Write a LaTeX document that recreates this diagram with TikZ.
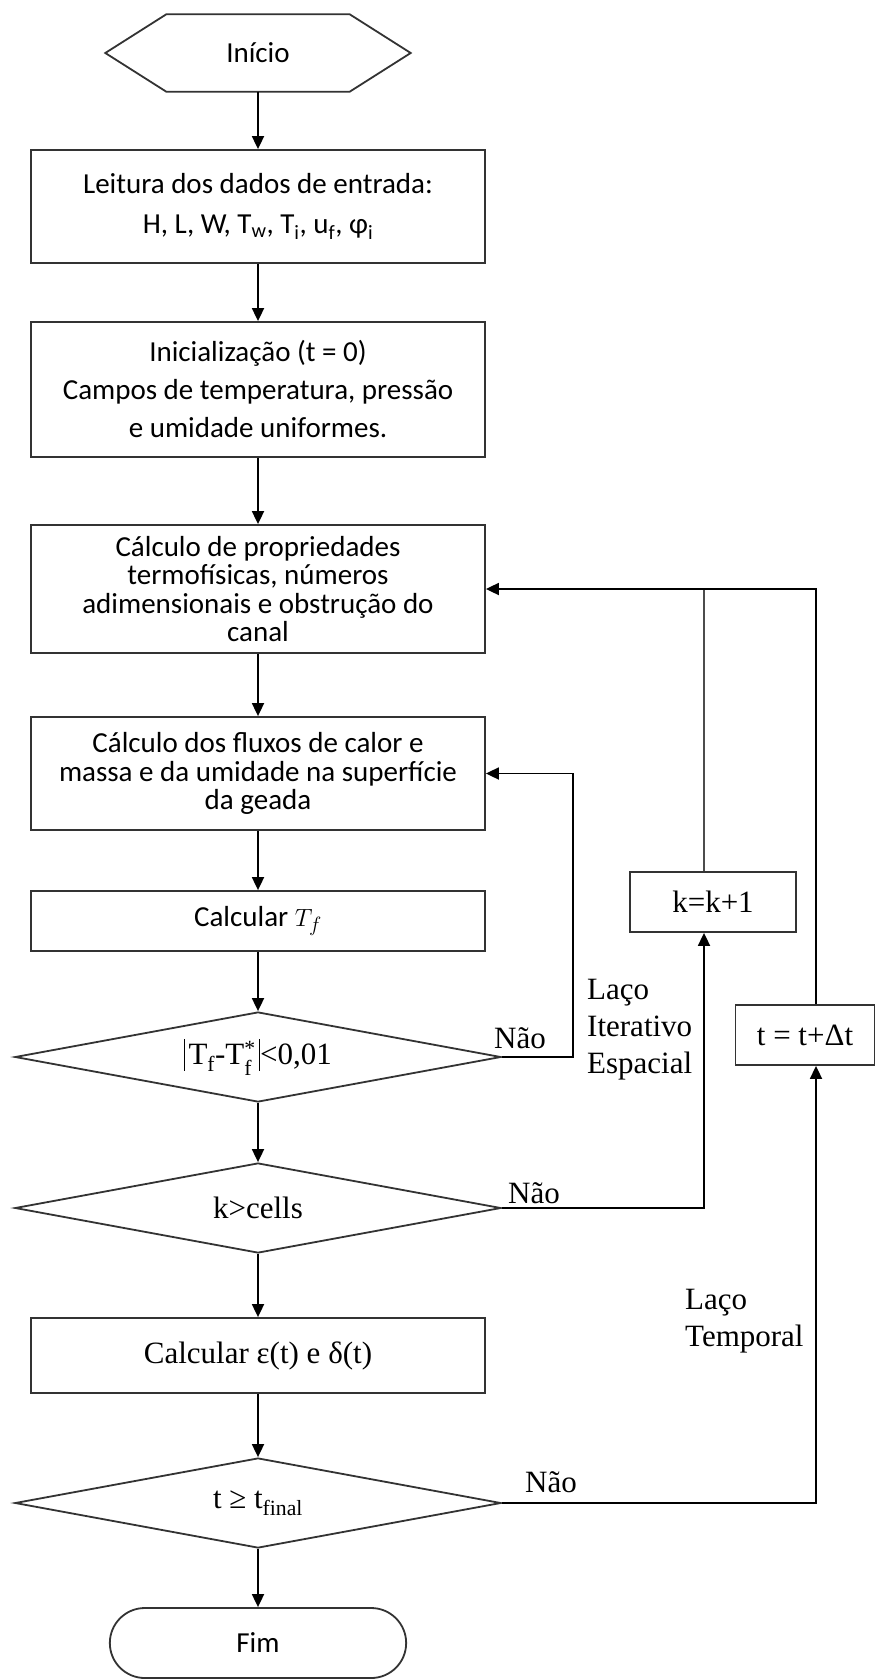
\documentclass[tikz,border=0pt]{standalone}
\usepackage{amsmath}
\usepackage{fontspec}
\setmainfont{Liberation Serif}
\newfontfamily\carlito{Carlito}
\usetikzlibrary{arrows.meta,shapes.geometric,shapes.misc}
\newcommand{\absbar}{\rule[-6pt]{1.4pt}{32pt}}

\begin{document}
\begin{tikzpicture}[
    x=1pt, y=-1pt,
    box/.style={draw=black!80, line width=1.8pt, minimum width=454pt, inner sep=0pt, align=center,
      font=\carlito\fontsize{29}{28.5}\selectfont},
    cond/.style={diamond, aspect=5.4, draw=black!80, line width=1.8pt, minimum width=486pt, minimum height=90pt,
      inner sep=0pt, font=\fontsize{31}{37}\selectfont},
    smallbox/.style={draw=black!80, line width=1.8pt, minimum height=60pt, inner sep=0pt,
      font=\fontsize{31}{37}\selectfont},
    lbl/.style={inner sep=0pt, align=left, font=\fontsize{31}{37}\selectfont},
    arr/.style={-{Triangle[length=13pt,width=12pt]}, line width=1.8pt},
    back/.style={line width=1.6pt, black!70},
  ]
    \useasboundingbox (0,0) rectangle (876,1680);

    % Start
    \node[minimum width=305pt, minimum height=77pt, inner sep=0pt,
      font=\carlito\fontsize{29}{35}\selectfont] (inicio) at (258,53) {Início};
    \draw[draw=black!80, line width=1.8pt] (inicio.west) -- ([xshift=61pt]inicio.north west)
      -- ([xshift=-61pt]inicio.north east) -- (inicio.east)
      -- ([xshift=-61pt]inicio.south east) -- ([xshift=61pt]inicio.south west) -- cycle;

    % Main column
    \node[box, minimum height=113pt, font=\carlito\fontsize{29}{40}\selectfont] (leitura) at (258,206.5)
      {Leitura dos dados de entrada:\\H, L, W, T\textsubscript{w}, T\textsubscript{i}, u\textsubscript{f}, φ\textsubscript{i}};
    \node[box, minimum height=135pt, font=\carlito\fontsize{29}{38}\selectfont] (inicial) at (258,389.5)
      {Inicialização (t = 0)\\Campos de temperatura, pressão\\e umidade uniformes.};
    \node[box, minimum height=128pt] (props) at (258,589)
      {Cálculo de propriedades\\termofísicas, números\\adimensionais e obstrução do\\canal};
    \node[box, minimum height=113pt] (fluxos) at (258,773.5)
      {Cálculo dos fluxos de calor e\\massa e da umidade na superfície\\da geada};
    \node[box, minimum height=60pt] (calctf) at (258,921) {Calcular $T_f$};
    \node[cond] (dtf) at (258,1057)
      {\absbar\hspace{3pt}T\textsubscript{f}-T$^{\text{*}}_{\text{f}}$\hspace{3pt}\absbar<0,01};
    \node[cond] (dcells) at (258,1208) {k>cells};
    \node[box, minimum height=75pt, font=\fontsize{31}{37}\selectfont] (calceps) at (258,1355.5)
      {Calcular ε(t) e δ(t)};
    \node[cond] (dfinal) at (258,1503) {t ≥ t\textsubscript{final}};
    \node[rounded rectangle, draw=black!80, line width=1.8pt, minimum width=303pt, minimum height=70pt,
      font=\carlito\fontsize{29}{35}\selectfont] (fim) at (258,1643) {Fim};

    % Counters
    \node[smallbox, minimum width=166pt] (kbox) at (713,902) {k=k+1};
    \node[smallbox, minimum width=139pt] (tbox) at (805,1035) {t = t+Δt};
    \coordinate (kcol) at (704,589);
    \coordinate (tcol) at (816,589);

    % Main arrows
    \draw[arr] (inicio.south) -- (leitura.north);
    \draw[arr] (leitura.south) -- (inicial.north);
    \draw[arr] (inicial.south) -- (props.north);
    \draw[arr] (props.south) -- (fluxos.north);
    \draw[arr] (fluxos.south) -- (calctf.north);
    \draw[arr] (calctf.south) -- (dtf.north);
    \draw[arr] (dtf.south) -- (dcells.north);
    \draw[arr] (dcells.south) -- (calceps.north);
    \draw[arr] (calceps.south) -- (dfinal.north);
    \draw[arr] (dfinal.south) -- (fim.north);

    % Spatial loop
    \draw[arr] (dtf.east) -- ++(71,0) |- (fluxos.east);
    \draw[arr] (dcells.east) -| (kbox.south -| kcol);
    \draw[back] (kbox.north -| kcol) -- (kcol);

    % Temporal loop
    \draw[arr] (dfinal.east) -| (tbox.south -| tcol);
    \draw[arr] (tbox.north -| tcol) |- (props.east);

    % Labels
    \node[lbl, anchor=west] (nao1) at (494,1038) {Não};
    \node[lbl, anchor=west] (nao2) at (508,1193) {Não};
    \node[lbl, anchor=west] (nao3) at (525,1482) {Não};
    \node[lbl, anchor=west] (lacoesp) at (587,1030) {Laço\\Iterativo\\Espacial};
    \node[lbl, anchor=west] (lacotemp) at (685,1321) {Laço\\Temporal};
\end{tikzpicture}
\end{document}
